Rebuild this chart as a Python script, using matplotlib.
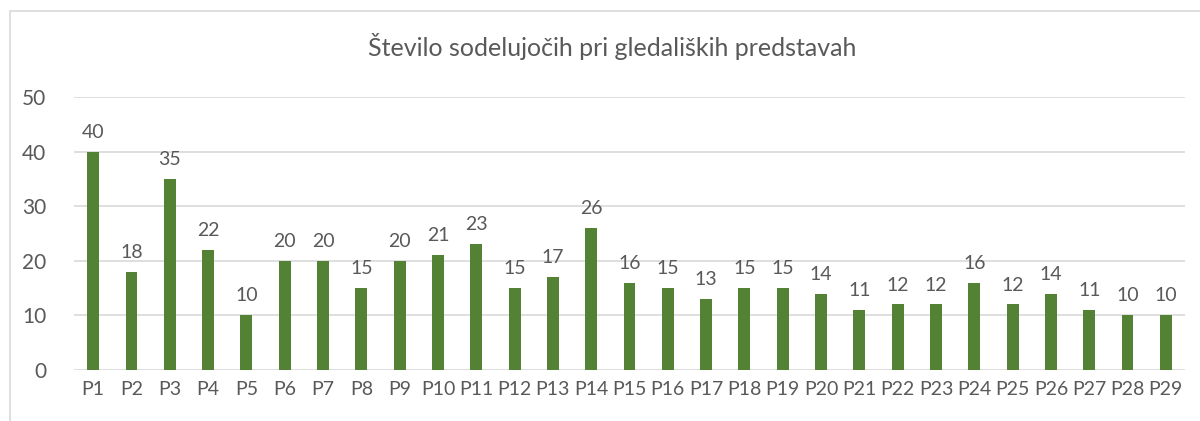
import matplotlib
matplotlib.use("Agg")
import matplotlib.pyplot as plt
from matplotlib.patches import Rectangle

categories = [f"P{i}" for i in range(1, 30)]
values = [40, 18, 35, 22, 10, 20, 20, 15, 20, 21, 23, 15, 17, 26, 16, 15, 13, 15, 15, 14,
          11, 12, 12, 16, 12, 14, 11, 10, 10]
yticks = [0, 10, 20, 30, 40, 50]
title = "Število sodelujočih pri gledaliških predstavah"

plt.rcParams['font.family'] = ['Lato', 'DejaVu Sans']
txt = "#595959"
W, H = 1200, 421
fig = plt.figure(figsize=(W / 100, H / 100), dpi=100)
fig.patches.append(Rectangle((10 / W, -0.1), 1.2, 1 - 11 / H + 0.1, transform=fig.transFigure,
                             fill=False, edgecolor="#D9D9D9", linewidth=1.2))

ax = fig.add_axes([74 / W, 1 - 370 / H, (1185 - 74) / W, (370 - 97) / H])
x = range(len(categories))
bars = ax.bar(x, values, width=0.31, color="#548235", zorder=3)
for xi, v in zip(x, values):
    ax.text(xi, v + 2.0, str(v), ha="center", va="bottom", fontsize=14, color=txt)
ax.set_xlim(-0.5, len(categories) - 0.5)
ax.set_ylim(0, 50)
ax.set_yticks(yticks)
ax.set_yticklabels([str(t) for t in yticks], fontsize=15, color=txt)
ax.set_xticks(list(x))
ax.set_xticklabels(categories, fontsize=14, color=txt)
ax.tick_params(axis="both", length=0)
ax.tick_params(axis="y", pad=20)
ax.tick_params(axis="x", pad=8)
ax.grid(axis="y", color="#D9D9D9", linewidth=1.2, zorder=0)
for s in ax.spines.values():
    s.set_visible(False)
fig.text(612 / W, 1 - 47 / H, title, ha="center", va="center", fontsize=18, color=txt)
fig.savefig("out.png", dpi=100)
